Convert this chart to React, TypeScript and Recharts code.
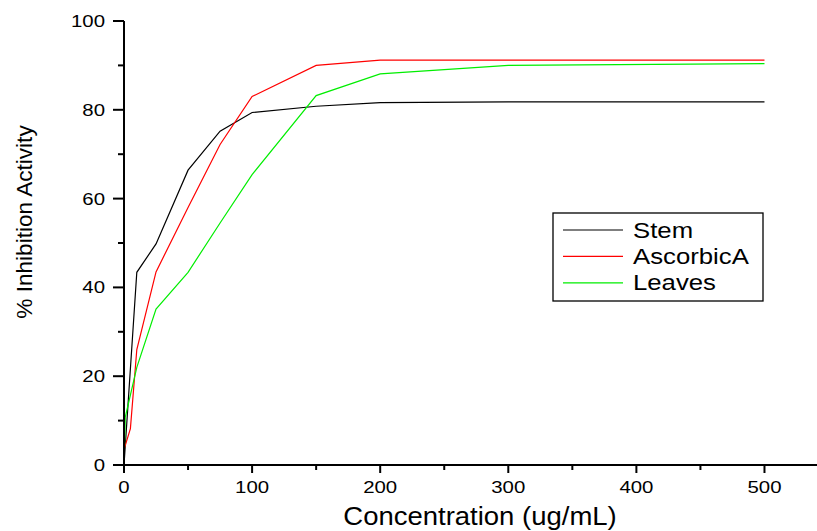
import { LineChart, Line, XAxis, YAxis } from "recharts";

const stemConc = [0, 10, 25, 50, 75, 100, 150, 200, 300, 500];
const stemVals = [0, 43.4, 49.8, 66.4, 75.2, 79.4, 80.8, 81.6, 81.8, 81.8];

const ascorbicConc = [0, 5, 10, 25, 50, 75, 100, 150, 200, 300, 500];
const ascorbicVals = [3.5, 8.2, 26, 43.5, 58, 72.2, 83, 90, 91.2, 91.2, 91.2];

const leavesConc = [0, 1, 10, 25, 50, 75, 100, 150, 200, 300, 500];
const leavesVals = [0, 10.8, 22, 35.1, 43.4, 54.5, 65.4, 83.2, 88.1, 90, 90.4];

const xTicks = [0, 50, 100, 150, 200, 250, 300, 350, 400, 450, 500];
const yTicks = [0, 10, 20, 30, 40, 50, 60, 70, 80, 90, 100];

const series = [
  { name: "Stem", color: "#000000", conc: stemConc, vals: stemVals },
  { name: "AscorbicA", color: "#ff0000", conc: ascorbicConc, vals: ascorbicVals },
  { name: "Leaves", color: "#00ee00", conc: leavesConc, vals: leavesVals },
];

const FONT = "'Liberation Sans', Arial, sans-serif";

const toRows = (conc: number[], vals: number[]) => conc.map((c, i) => ({ c, v: vals[i] }));

// wide-ish text like the original export
function WideText({ x, y, size, sx, anchor, children }: any) {
  return (
    <text
      transform={`translate(${x},${y}) scale(${sx},1)`}
      fontFamily={FONT}
      fontSize={size}
      fill="#000"
      textAnchor={anchor}
    >
      {children}
    </text>
  );
}

function YTick({ x, y, payload }: any) {
  const major = payload.value % 20 === 0;
  return (
    <g>
      <line x1={x - (major ? 11 : 6)} x2={x} y1={y} y2={y} stroke="#000" strokeWidth={2} />
      {major && (
        <WideText x={x - 19} y={y + 6} size={17} sx={1.2} anchor="end">
          {payload.value}
        </WideText>
      )}
    </g>
  );
}

function XTick({ x, y, payload }: any) {
  const major = payload.value % 100 === 0;
  return (
    <g>
      <line x1={x} x2={x} y1={y} y2={y + (major ? 8 : 5)} stroke="#000" strokeWidth={2} />
      {major && (
        <WideText x={x} y={y + 28} size={17} sx={1.2} anchor="middle">
          {payload.value}
        </WideText>
      )}
    </g>
  );
}

export default function App() {
  return (
    <div style={{ position: "absolute", left: 0, top: 0, width: 817, height: 531, background: "#fff" }}>
      <LineChart width={817} height={531} margin={{ top: 21, right: 0, left: 123, bottom: 65 }}>
        <XAxis
          type="number"
          dataKey="c"
          domain={[0, 541]}
          ticks={xTicks}
          allowDataOverflow
          height={1}
          tickSize={0}
          tickMargin={0}
          tickLine={false}
          tick={<XTick />}
          axisLine={{ stroke: "#000", strokeWidth: 2 }}
        />
        <YAxis
          type="number"
          domain={[0, 100]}
          ticks={yTicks}
          width={1}
          tickSize={0}
          tickMargin={0}
          tickLine={false}
          tick={<YTick />}
          axisLine={{ stroke: "#000", strokeWidth: 2 }}
        />
        {series.map((s) => (
          <Line
            key={s.name}
            data={toRows(s.conc, s.vals)}
            dataKey="v"
            name={s.name}
            type="linear"
            stroke={s.color}
            strokeWidth={1.2}
            dot={false}
            isAnimationActive={false}
          />
        ))}
      </LineChart>
      <svg
        width={817}
        height={531}
        style={{ position: "absolute", left: 0, top: 0, pointerEvents: "none" }}
      >
        <text
          transform="translate(32,222) rotate(-90)"
          fontFamily={FONT}
          fontSize={22.6}
          textAnchor="middle"
          fill="#000"
        >
          % Inhibition Activity
        </text>
        <WideText x={480} y={524.5} size={25} sx={1.1} anchor="middle">
          Concentration (ug/mL)
        </WideText>
        <rect x={553} y={213} width={210} height={88} fill="#fff" stroke="#000" strokeWidth={1.3} />
        {series.map((s, i) => (
          <g key={s.name}>
            <line x1={563} x2={623} y1={230 + i * 26.4} y2={230 + i * 26.4} stroke={s.color} strokeWidth={1.2} />
            <WideText x={633} y={237.5 + i * 26.4} size={22} sx={1.17} anchor="start">
              {s.name}
            </WideText>
          </g>
        ))}
      </svg>
    </div>
  );
}
